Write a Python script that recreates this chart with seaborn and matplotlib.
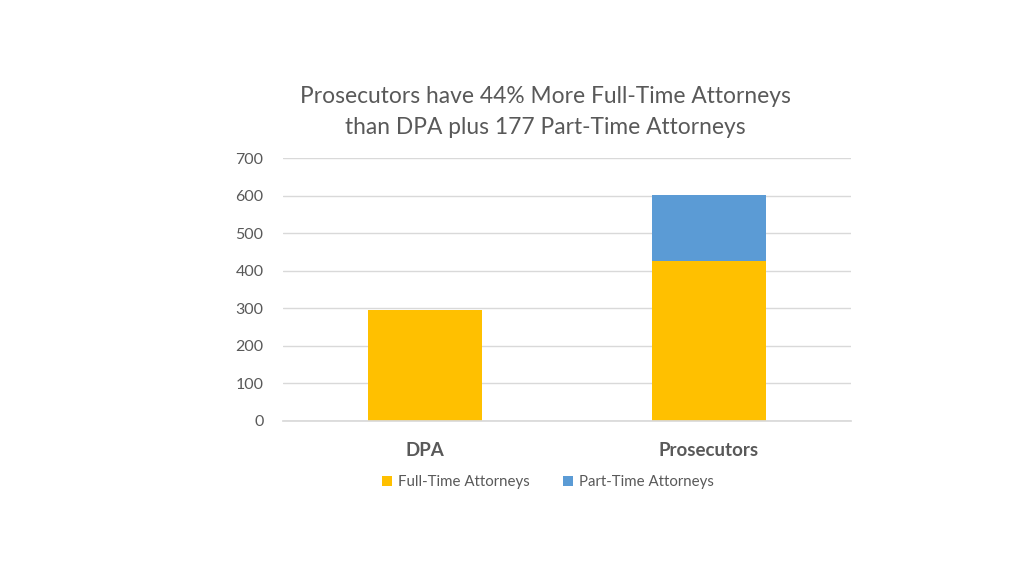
import matplotlib
matplotlib.use("Agg")
import matplotlib.pyplot as plt
import seaborn as sns
import pandas as pd
from matplotlib.patches import Patch

categories = ["DPA", "Prosecutors"]
full_time = [295, 425]
part_time = [0, 177]
series_names = ["Full-Time Attorneys", "Part-Time Attorneys"]
title = "Prosecutors have 44% More Full-Time Attorneys\nthan DPA plus 177 Part-Time Attorneys"

sns.set_theme(style="white")
plt.rcParams['font.family'] = ['Lato', 'DejaVu Sans']

gold = "#FFC000"
blue = "#5B9BD5"
txt = "#595959"

df = pd.DataFrame({"cat": categories, "full": full_time, "part": part_time})
df["total"] = df["full"] + df["part"]

fig = plt.figure(figsize=(10.24, 5.76), dpi=100)
ax = fig.add_axes([283/1024, 1 - 421/576, (851-283)/1024, (421-158)/576])

sns.barplot(data=df, x="cat", y="total", color=blue, saturation=1, width=0.40, ax=ax,
            order=categories, linewidth=0, edgecolor="none")
sns.barplot(data=df, x="cat", y="full", color=gold, saturation=1, width=0.40, ax=ax,
            order=categories, linewidth=0, edgecolor="none")

ax.set_ylim(0, 700)
ax.set_xlim(-0.5, 1.5)
ax.set_yticks(range(0, 701, 100))
ax.yaxis.grid(True, color="#D9D9D9", linewidth=1)
ax.set_axisbelow(True)
for s in ["top", "right", "left"]:
    ax.spines[s].set_visible(False)
ax.spines["bottom"].set_color("#D9D9D9")
ax.set_xlabel("")
ax.set_ylabel("")
ax.tick_params(axis="y", length=0, pad=14, labelsize=11.5, labelcolor=txt)
ax.tick_params(axis="x", length=0, pad=15, labelsize=13.5, labelcolor=txt)
for lbl in ax.get_xticklabels():
    lbl.set_fontweight("bold")

fig.text(545/1024, 1 - 112/576, title, ha="center", va="center", fontsize=16.4,
         color=txt, linespacing=1.6)

handles = [Patch(facecolor=gold, edgecolor="none"), Patch(facecolor=blue, edgecolor="none")]
fig.legend(handles, series_names, loc="center", bbox_to_anchor=(548/1024, 1 - 482/576),
           ncol=2, frameon=False, fontsize=10.8, handlelength=0.7, handleheight=0.7,
           handletextpad=0.4, columnspacing=2.2, labelcolor=txt)

fig.savefig("out.png", dpi=100)
